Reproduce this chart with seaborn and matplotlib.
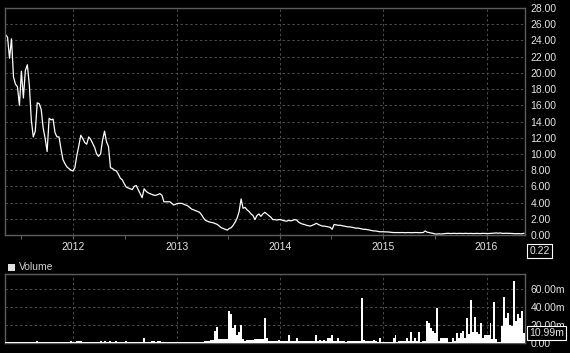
# Weekly close and volume of a falling small-cap, drawn like a terminal chart.
import matplotlib

matplotlib.use("Agg")
import matplotlib.dates as mdates
import matplotlib.pyplot as plt
import matplotlib.ticker as mticker
from matplotlib.patches import Rectangle
from matplotlib.transforms import blended_transform_factory
import pandas as pd
import seaborn as sns

START = "2011-05-06"

price = [
    24.7, 24.4, 21.8, 24.2, 19.5, 18.6, 18.3, 16.0, 20.2, 16.9,
    20.3, 21.0, 18.5, 14.2, 12.1, 12.8, 16.3, 16.2, 15.5, 13.2,
    11.9, 10.3, 14.4, 14.2, 14.3, 12.6, 12.1, 12.1, 10.6, 9.3,
    8.8, 8.4, 8.2, 8.0, 7.9, 8.3, 9.8, 11.0, 12.3, 11.9,
    11.4, 11.2, 12.1, 11.8, 11.3, 10.8, 10.0, 9.7, 10.0, 11.7,
    12.8, 11.5, 10.9, 8.3, 8.2, 8.0, 7.9, 7.5, 7.0, 6.8,
    6.3, 5.9, 5.8, 5.7, 5.6, 6.0, 6.1, 5.6, 5.1, 4.6,
    5.7, 5.4, 5.2, 5.1, 5.0, 4.9, 4.9, 5.0, 5.1, 4.9,
    4.1, 4.1, 4.1, 4.1, 3.9, 3.7, 3.8, 3.9, 3.9, 3.9,
    3.8, 3.7, 3.6, 3.4, 3.2, 3.1, 3.0, 2.9, 2.8, 2.5,
    2.1, 1.8, 1.7, 1.6, 1.55, 1.5, 1.4, 1.3, 1.1, 0.9,
    0.8, 0.7, 0.6, 0.8, 0.9, 1.2, 1.6, 2.1, 2.9, 4.45,
    3.3, 3.4, 3.1, 2.9, 2.6, 2.4, 1.9, 2.4, 2.6, 2.3,
    2.6, 2.8, 2.6, 2.4, 2.2, 1.9, 1.9, 1.85, 1.9, 1.9,
    1.8, 1.75, 1.7, 1.8, 1.75, 1.8, 1.9, 1.85, 1.6, 1.45,
    1.35, 1.3, 1.2, 1.15, 1.1, 1.2, 1.3, 1.45, 1.3, 1.2,
    1.1, 1.1, 1.05, 1.0, 0.95, 0.7, 1.3, 1.25, 1.2, 1.2,
    1.15, 1.1, 1.05, 1.0, 1.0, 0.95, 0.9, 0.85, 0.85, 0.8,
    0.75, 0.7, 0.7, 0.65, 0.6, 0.55, 0.5, 0.5, 0.45, 0.4,
    0.4, 0.4, 0.38, 0.38, 0.35, 0.33, 0.3, 0.3, 0.3, 0.3,
    0.3, 0.3, 0.28, 0.3, 0.3, 0.28, 0.3, 0.3, 0.3, 0.28,
    0.3, 0.3, 0.5, 0.35, 0.3, 0.25, 0.2, 0.12, 0.12, 0.15,
    0.12, 0.15, 0.18, 0.2, 0.2, 0.18, 0.2, 0.2, 0.18, 0.2,
    0.2, 0.18, 0.2, 0.2, 0.18, 0.2, 0.18, 0.18, 0.2, 0.18,
    0.18, 0.2, 0.2, 0.18, 0.18, 0.2, 0.22, 0.25, 0.25, 0.22,
    0.25, 0.2, 0.2, 0.22, 0.2, 0.2, 0.18, 0.15, 0.15, 0.18,
    0.15, 0.15, 0.22,
]

# millions of shares per week
volume = [
    1.0, 1.2, 1.1, 1.0, 1.2, 1.0, 1.1, 1.0, 1.2, 1.1,
    1.0, 1.1, 1.2, 1.1, 1.0, 1.2, 1.8, 1.1, 1.0, 1.1,
    1.0, 1.2, 1.1, 1.0, 1.1, 1.0, 1.2, 1.1, 1.0, 1.1,
    1.2, 1.1, 1.2, 1.8, 1.2, 1.2, 2.5, 2.5, 2.0, 1.2,
    1.2, 1.1, 1.2, 1.2, 1.2, 1.1, 1.2, 1.2, 2.5, 1.2,
    2.5, 1.2, 1.2, 2.5, 1.2, 1.2, 2.5, 1.2, 1.1, 1.2,
    1.2, 1.8, 1.2, 1.1, 1.2, 1.2, 1.1, 1.2, 1.2, 1.2,
    5.5, 1.3, 1.2, 1.2, 2.0, 2.0, 1.3, 2.0, 2.0, 1.2,
    1.2, 1.1, 1.2, 1.2, 1.1, 1.2, 1.2, 1.1, 1.2, 1.2,
    1.5, 1.5, 1.2, 1.5, 1.5, 1.3, 1.5, 1.5, 1.2, 1.3,
    1.3, 2.0, 2.0, 2.0, 3.0, 3.0, 13.6, 18.0, 4.4, 4.4,
    4.4, 4.4, 4.4, 35.5, 32.0, 17.0, 20.0, 9.0, 11.8, 20.0,
    4.5, 2.5, 3.0, 3.0, 3.0, 3.0, 4.5, 4.0, 4.0, 4.0,
    4.0, 28.0, 5.0, 2.5, 2.5, 2.5, 2.0, 2.5, 3.5, 2.5,
    2.5, 2.0, 2.5, 8.8, 2.5, 2.0, 2.5, 5.0, 2.0, 2.5,
    2.5, 2.5, 2.5, 2.5, 2.5, 2.0, 2.5, 8.8, 2.0, 3.0,
    2.0, 3.0, 2.0, 5.0, 5.0, 8.8, 2.5, 2.0, 5.0, 2.0,
    2.0, 2.0, 1.5, 2.0, 2.0, 2.0, 2.0, 2.0, 2.0, 2.0,
    50.0, 3.0, 2.5, 2.5, 2.5, 2.0, 3.5, 2.0, 1.5, 6.0,
    1.5, 1.5, 1.5, 1.5, 1.5, 1.2, 5.0, 8.8, 1.5, 2.0,
    2.0, 2.0, 2.0, 5.0, 2.0, 12.5, 2.0, 5.0, 2.0, 12.5,
    1.5, 2.0, 2.0, 24.3, 22.0, 16.6, 13.6, 11.0, 39.0, 2.0,
    6.0, 6.0, 6.0, 5.0, 1.5, 1.5, 5.0, 2.0, 11.0, 5.0,
    11.0, 13.6, 5.0, 28.0, 10.0, 47.0, 12.5, 28.5, 12.0, 10.0,
    22.0, 5.0, 8.8, 8.8, 8.8, 22.0, 4.0, 45.6, 4.0, 1.5,
    1.5, 18.8, 51.0, 28.0, 33.5, 20.0, 18.8, 68.5, 24.0, 32.0,
    28.0, 35.0, 10.99,
]

price_ticks = list(range(0, 30, 2))
volume_ticks = [0, 20, 40, 60]
last_price = "0.22"
last_volume = "10.99m"

dates = pd.date_range(START, periods=len(price), freq="7D")
df = pd.DataFrame({"date": dates, "price": price, "volume": volume})

sns.set_theme(style="dark")
plt.rcParams["font.family"] = ["Liberation Sans", "DejaVu Sans"]

W, H = 570, 353
fig = plt.figure(figsize=(W / 100, H / 100), dpi=100, facecolor="black")
ax = fig.add_axes([5 / W, 1 - 235 / H, 520 / W, 227 / H])
axv = fig.add_axes([5 / W, 1 - 343 / H, 520 / W, 69 / H], sharex=ax)

GRID = "#4d4d4d"
SPINE = "#5c5c5c"
TXT = "#e4e4e4"

for a in (ax, axv):
    a.set_facecolor("black")
    for s in a.spines.values():
        s.set_color(SPINE)
        s.set_linewidth(1.0)
    a.grid(True, which="major", color=GRID, linestyle=(0, (2.5, 2.5)), linewidth=0.7)
    a.yaxis.tick_right()
    a.tick_params(axis="y", length=0, pad=4, labelcolor=TXT, labelsize=7.5)

sns.lineplot(data=df, x="date", y="price", color="white", linewidth=0.9, ax=ax)
# bars drawn over the bottom spine so the near-zero weeks read as a white baseline
axv.bar(df["date"], df["volume"], width=7, color="white", linewidth=0, zorder=3)

ax.set_xlim(pd.Timestamp("2011-05-04"), pd.Timestamp("2016-05-16"))
ax.set_ylim(0, 28)
ax.set_yticks(price_ticks)
ax.yaxis.set_major_formatter(mticker.FormatStrFormatter("%.2f"))
ax.xaxis.set_major_locator(mdates.YearLocator())
ax.xaxis.set_major_formatter(mdates.DateFormatter("%Y"))
ax.xaxis.set_minor_locator(mdates.MonthLocator(bymonth=7))
ax.tick_params(axis="x", which="both", direction="out", length=3, width=0.8,
               color=SPINE, labelcolor=TXT, labelsize=7.5, pad=2, bottom=True)
ax.set_xlabel("")
ax.set_ylabel("")

axv.set_ylim(0, 76)
axv.set_yticks(volume_ticks)
axv.yaxis.set_major_formatter(mticker.FuncFormatter(
    lambda v, _: "0.00" if v == 0 else f"{v:.2f}m"))
axv.tick_params(axis="x", which="both", length=0, labelbottom=False)
axv.set_xlabel("")
axv.set_ylabel("")

box = dict(boxstyle="square,pad=0.2", facecolor="black", edgecolor="white", linewidth=0.8)
ax.text(1.0087, -0.07, last_price, transform=ax.transAxes, ha="left", va="center",
        color=TXT, fontsize=7.5, bbox=box, clip_on=False, zorder=5)
# the last-volume tag sits on its value and hides part of the 20.00m label, as in the source
axv.text(1.0087, 10.99, last_volume,
         transform=blended_transform_factory(axv.transAxes, axv.transData),
         ha="left", va="center", color=TXT, fontsize=7.5, bbox=box, clip_on=False, zorder=5)

fig.patches.append(Rectangle((8 / W, 1 - 271 / H), 7 / W, 7 / H, transform=fig.transFigure,
                             facecolor="#e0e0e0", edgecolor="none"))
fig.text(19 / W, 1 - 267.5 / H, "Volume", ha="left", va="center", color="#d0d0d0", fontsize=7.5)

fig.savefig("out.png", dpi=100, facecolor="black")
